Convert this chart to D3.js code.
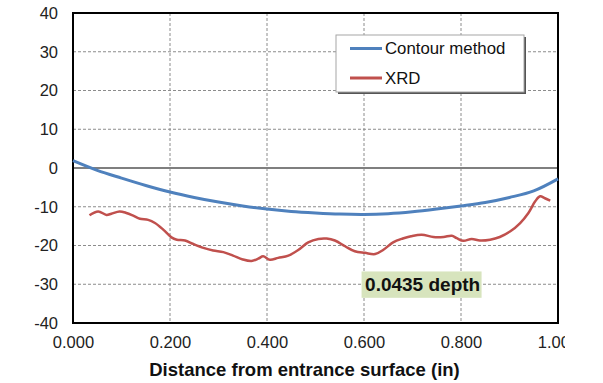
<!DOCTYPE html>
<html>
<head>
<meta charset="utf-8">
<script src="https://cdn.jsdelivr.net/npm/d3@7"></script>
<style>
  html, body { margin: 0; padding: 0; background: #fff; }
  svg { display: block; font-family: "Liberation Sans", Arial, sans-serif; }
</style>
</head>
<body>
<svg id="chart" width="603" height="383"></svg>
<script>
// Axis ticks
const xTicks = [0, 0.2, 0.4, 0.6, 0.8, 1.0];
const yTicks = [-40, -30, -20, -10, 0, 10, 20, 30, 40];

// Contour method residual stress profile
const contourX = [0, 0.05, 0.1, 0.15, 0.2, 0.25, 0.3, 0.35, 0.4, 0.45, 0.5, 0.55, 0.6, 0.65, 0.7, 0.75, 0.8, 0.85, 0.9, 0.95, 1.0];
const contourY = [1.9, -0.6, -2.6, -4.5, -6.2, -7.6, -8.8, -9.8, -10.6, -11.2, -11.6, -11.9, -12.0, -11.8, -11.3, -10.6, -9.8, -8.9, -7.6, -5.9, -2.8];

// XRD measurements
const xrdX = [0.034, 0.052, 0.069, 0.079, 0.096, 0.110, 0.124, 0.138, 0.155, 0.169, 0.186, 0.203, 0.214, 0.231, 0.248, 0.269, 0.289, 0.310, 0.330, 0.350, 0.368, 0.382, 0.392, 0.406, 0.423, 0.444, 0.465, 0.485, 0.506, 0.523, 0.540, 0.561, 0.581, 0.602, 0.623, 0.640, 0.660, 0.680, 0.697, 0.719, 0.743, 0.764, 0.781, 0.791, 0.805, 0.822, 0.839, 0.860, 0.880, 0.901, 0.922, 0.939, 0.953, 0.963, 0.973, 0.984];
const xrdY = [-12.2, -11.2, -12.1, -11.8, -11.2, -11.6, -12.3, -13.1, -13.4, -14.2, -15.9, -17.9, -18.5, -18.7, -19.6, -20.6, -21.3, -21.7, -22.6, -23.6, -24.0, -23.4, -22.8, -23.7, -23.2, -22.6, -21.1, -19.2, -18.3, -18.2, -18.7, -20.2, -21.5, -21.9, -22.2, -21.1, -19.2, -18.2, -17.6, -17.2, -17.8, -17.8, -17.5, -18.1, -18.8, -18.3, -18.7, -18.5, -17.8, -16.4, -14.2, -11.6, -8.6, -7.3, -7.8, -8.4];

const seriesNames = ["Contour method", "XRD"];
const seriesColors = ["#4F81BD", "#C0504D"];
const noteText = "0.0435 depth";
const xTitle = "Distance from entrance surface (in)";

const svg = d3.select("#chart");
const plotL = 73, plotR = 558, plotT = 13, plotB = 323;

const x = d3.scaleLinear().domain([0, 1]).range([plotL, plotR]);
const y = d3.scaleLinear().domain([-40, 40]).range([plotB, plotT]);

// Grid lines
const grid = svg.append("g").attr("stroke", "#8c8c8c").attr("stroke-width", 1).attr("stroke-dasharray", "3,2");
grid.selectAll("line.v").data(xTicks.filter(d => d > 0 && d < 1)).join("line").attr("class", "v")
  .attr("x1", d => x(d)).attr("x2", d => x(d)).attr("y1", plotT).attr("y2", plotB);
grid.selectAll("line.h").data(yTicks.filter(d => d !== 0 && d > -40 && d < 40)).join("line").attr("class", "h")
  .attr("x1", plotL).attr("x2", plotR).attr("y1", d => y(d)).attr("y2", d => y(d));

// Zero line
svg.append("line").attr("x1", plotL).attr("x2", plotR).attr("y1", y(0)).attr("y2", y(0))
  .attr("stroke", "#7f7f7f").attr("stroke-width", 2);

// Plot frame
svg.append("rect").attr("x", plotL).attr("y", plotT).attr("width", plotR - plotL).attr("height", plotB - plotT)
  .attr("fill", "none").attr("stroke", "#000").attr("stroke-width", 2);

// Y axis labels (plain hyphen for negatives)
const yAxis = d3.axisLeft(y).tickValues(yTicks).tickSize(0).tickPadding(15).tickFormat(d => String(d));
svg.append("g").attr("transform", `translate(${plotL},0)`).call(yAxis)
  .call(g => g.select(".domain").remove())
  .selectAll("text").attr("font-size", 16.5).attr("fill", "#222").attr("font-family", "Liberation Sans, Arial, sans-serif");

// X axis labels, clipped at the right edge
svg.append("defs").append("clipPath").attr("id", "xclip")
  .append("rect").attr("x", 0).attr("y", 0).attr("width", 565).attr("height", 383);
const xAxis = d3.axisBottom(x).tickValues(xTicks).tickSize(0).tickPadding(13).tickFormat(d => d.toFixed(3));
svg.append("g").attr("clip-path", "url(#xclip)").append("g")
  .attr("transform", `translate(0,${plotB})`).call(xAxis)
  .call(g => g.select(".domain").remove())
  .selectAll("text").attr("font-size", 16.5).attr("fill", "#222").attr("font-family", "Liberation Sans, Arial, sans-serif");

// X axis title
svg.append("text").attr("x", 304.5).attr("y", 376).attr("text-anchor", "middle")
  .attr("font-size", 18.5).attr("font-weight", "bold").attr("fill", "#111").text(xTitle);

// Series lines
const line = d3.line().x(d => x(d[0])).y(d => y(d[1])).curve(d3.curveCatmullRom.alpha(0.5));
svg.append("path").datum(xrdX.map((d, i) => [d, xrdY[i]]))
  .attr("d", line).attr("fill", "none").attr("stroke", seriesColors[1]).attr("stroke-width", 2.5)
  .attr("stroke-linejoin", "round");
svg.append("path").datum(contourX.map((d, i) => [d, contourY[i]]))
  .attr("d", line).attr("fill", "none").attr("stroke", seriesColors[0]).attr("stroke-width", 3);

// Annotation
const note = svg.append("g");
note.append("rect").attr("x", x(0.595)).attr("y", y(-26.7)).attr("width", 120).attr("height", y(-33.5) - y(-26.7))
  .attr("fill", "#D7E4BD");
note.append("text").attr("x", x(0.595) + 3.5).attr("y", y(-30.1)).attr("dy", "0.36em")
  .attr("font-size", 19).attr("font-weight", "bold").attr("fill", "#111").text(noteText);

// Legend
const lg = svg.append("g");
lg.append("rect").attr("x", 338).attr("y", 37).attr("width", 188).attr("height", 57).attr("fill", "#555");
lg.append("rect").attr("x", 336).attr("y", 35).attr("width", 188).attr("height", 57)
  .attr("fill", "#fff").attr("stroke", "#a6a6a6").attr("stroke-width", 1);
seriesNames.forEach((name, i) => {
  const yy = 48.5 + i * 29.5;
  lg.append("line").attr("x1", 350).attr("x2", 382).attr("y1", yy).attr("y2", yy)
    .attr("stroke", seriesColors[i]).attr("stroke-width", 3);
  lg.append("text").attr("x", 385).attr("y", yy).attr("dy", "0.35em").attr("font-size", 16.8)
    .attr("fill", "#111").text(name);
});
</script>
</body>
</html>
